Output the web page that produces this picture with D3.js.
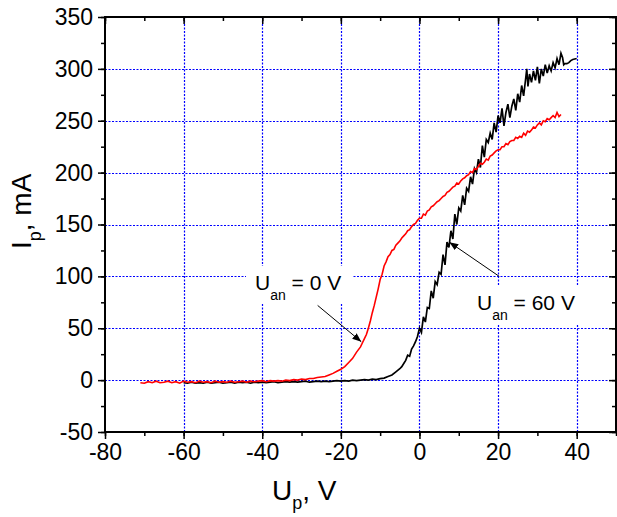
<!DOCTYPE html>
<html>
<head>
<meta charset="utf-8">
<script src="https://cdn.jsdelivr.net/npm/d3@7"></script>
<style>
  body { margin: 0; background: #fff; }
  text { font-family: "Liberation Sans", Arial, sans-serif; fill: #000; }
</style>
</head>
<body>
<div id="chart"></div>
<script>
// tick values
var xTicks = [-80, -60, -40, -20, 0, 20, 40];
var yTicks = [-50, 0, 50, 100, 150, 200, 250, 300, 350];
var xGrid = [-60, -40, -20, 0, 20, 40];
var yGrid = [0, 50, 100, 150, 200, 250, 300];

// U_an = 0 V (red)
var redU = [-71,-70,-69,-68,-67,-66,-65,-64,-63,-62,-61,-60,-59,-58,-57,-56,-55,-54,-53,-52,-51,-50,
  -49,-48,-47,-46,-45,-44,-43,-42,-41,-40,-39,-38,-37,-36,-35,-34,-33,-32,-31,-30,-29,-28,-27,-26,-25,
  -24,-23,-22,-21,-20,-19,-18,-17,-16,-15,-14.5,-14,-13.5,-13,-12.5,-12,-11.5,-11,-10.5,-10,-9.5,-9,
  -8.5,-8,-7.5,-7,-6.5,-6,-5.5,-5,-4.5,-4,-3.5,-3,-2.5,-2,-1.5,-1,-0.5,0,0.5,1,1.5,2,2.5,3,3.5,4,4.5,
  5,5.5,6,6.5,7,7.5,8,8.5,9,9.5,10,10.5,11,11.5,12,12.5,13,13.5,14,14.5,15,15.5,16,16.5,17,17.5,18,
  18.5,19,19.5,20,20.5,21,21.5,22,22.5,23,23.5,24,24.5,25,25.5,26,26.5,27,27.5,28,28.5,29,29.5,30,
  30.5,31,31.5,32,32.5,33,33.5,34,34.5,35,35.5,36];
var redI = [-2.5,-3,-1.5,-2.5,-1,-2.5,-2,-1,-2.5,-1.5,-3,-1,-2,-1.5,-2.5,-1,-2,-1.5,-2.5,-1,-2,-1.5,
  -2,-1,-2,-1.5,-1,-2,-1,-1.5,-1,-0.5,-1.5,-0.5,-1,-0.5,-1,0,-0.5,0.5,0,1,0.5,1.5,1.5,2.5,3,
  3.5,5,6.5,8.5,10.5,13,17,21,27,32,36,40,44,50,57,65,72,80,88,97,102,110,
  114,119,121,125,126,130,132,134,137,139,141,144,145,148,150,151,154,156,156,160,159,163,164,167,168,170,172,
  173,175,177,178,181,182,184,186,187,190,189,192,194,195,197,198,201,200,204,203,206,209,208,210,213,212,216,
  217,219,221,222,222,225,225,228,227,230,231,231,234,233,235,234,238,236,240,239,241,244,243,246,
  248,246,250,249,252,251,253,255,253,258,254,256];

// U_an = 60 V (black)
var blackU = [-60,-59,-58,-57,-56,-55,-54,-53,-52,-51,-50,-49,-48,-47,-46,-45,-44,-43,-42,-41,-40,
  -39,-38,-37,-36,-35,-34,-33,-32,-31,-30,-29,-28,-27,-26,-25,-24,-23,-22,-21,-20,-19,-18,-17,-16,-15,
  -14,-13,-12,-11,-10,-9,-8,-7,-6,-5,-4.5,-4,-3.5,-3,-2.5,-2,-1.5,-1,-0.5,0,0.5,1,1.5,2,2.5,3,3.5,4,4.5,
  5,5.5,6,6.5,7,7.5,8,8.5,9,9.5,10,10.5,11,11.5,12,12.5,13,13.5,14,14.5,15,15.5,16,16.5,17,17.5,18,18.5,
  19,19.5,20,20.5,21,21.5,22,22.5,23,23.5,24,24.5,25,25.5,26,26.5,27,27.3,27.6,28,28.5,29,29.5,30,30.5,
  31,31.5,32,32.5,33,33.5,34,34.5,35,35.5,36,36.4,36.7,37,37.5,38,38.5,39,40];
var blackI = [-2.5,-3,-2,-3,-2.5,-3,-2,-3,-2.5,-2,-3,-2.5,-2,-3,-2,-2.5,-2,-3,-2,-2.5,-2,
  -2.5,-2,-1.5,-2.5,-2,-1.5,-2,-1.5,-2,-1.5,-1,-2,-1.5,-1,-1.5,-1,-1.5,-1,-0.5,-1,-0.5,-1,0,-0.5,0,
  0.5,0,1,0.5,1.5,2,3.5,5,8,11,13,16,19,24,23,30,33,37,42,50,46,61,56,70,69,86,79,95,92,
  104,102,121,111,133,128,144,136,160,150,166,163,178,169,185,182,196,189,204,200,213,205,226,215,232,229,238,232,
  248,239,255,248,262,245,258,266,253,264,271,260,276,268,284,274,290,300,283,295,287,298,289,302,286,
  300,293,304,296,303,298,306,301,310,304,315,311,304,305,305,306,308,309,310];

var width = 617;
var height = 517;
var plotLeft = 105, plotRight = 616, plotTop = 17, plotBottom = 432;

var svg = d3.select("#chart")
    .append("svg")
    .attr("width", width)
    .attr("height", height);

var xScale = d3.scaleLinear().domain([-80, 50]).range([plotLeft, plotRight]);
var yScale = d3.scaleLinear().domain([-50, 350]).range([plotBottom, plotTop]);

// dotted blue grid
svg.append("g").selectAll("line").data(xGrid).enter()
    .append("line")
    .attr("x1", function(d) { return Math.round(xScale(d)) + 0.5; })
    .attr("x2", function(d) { return Math.round(xScale(d)) + 0.5; })
    .attr("y1", plotTop).attr("y2", plotBottom)
    .attr("stroke", "#0000ff").attr("stroke-width", 1.2)
    .attr("stroke-dasharray", "2,1.5");

svg.append("g").selectAll("line").data(yGrid).enter()
    .append("line")
    .attr("y1", function(d) { return Math.round(yScale(d)) + 0.5; })
    .attr("y2", function(d) { return Math.round(yScale(d)) + 0.5; })
    .attr("x1", plotLeft).attr("x2", plotRight)
    .attr("stroke", "#0000ff").attr("stroke-width", 1.2)
    .attr("stroke-dasharray", "2,1.5");

// curves
var line = d3.line()
    .x(function(d) { return xScale(d[0]); })
    .y(function(d) { return yScale(d[1]); });

var blackData = blackU.map(function(u, i) { return [u, blackI[i]]; });
var redData = redU.map(function(u, i) { return [u, redI[i]]; });

// label boxes hide the grid behind the text
var labels = svg.append("g");

function addLabel(x, y, sub, rest) {
  var box = labels.append("rect").attr("fill", "#fff");
  var t = labels.append("text")
      .attr("x", x).attr("y", y)
      .attr("font-size", 21);
  t.append("tspan").text("U");
  t.append("tspan").attr("font-size", 14).attr("dy", 10).text(sub);
  t.append("tspan").attr("dy", -10).text(rest);
  var bb = t.node().getBBox();
  box.attr("x", bb.x - 9).attr("y", bb.y - 5)
     .attr("width", bb.width + 20).attr("height", bb.height + 6);
}

addLabel(255, 290, "an", " = 0 V");
addLabel(477, 310, "an", " = 60 V");

svg.append("path")
    .datum(blackData)
    .attr("d", line)
    .attr("fill", "none")
    .attr("stroke", "#000")
    .attr("stroke-width", 1.7);

svg.append("path")
    .datum(redData)
    .attr("d", line)
    .attr("fill", "none")
    .attr("stroke", "#ff0000")
    .attr("stroke-width", 1.6);

// arrows
svg.append("defs").append("marker")
    .attr("id", "head")
    .attr("markerUnits", "userSpaceOnUse")
    .attr("markerWidth", 10).attr("markerHeight", 8)
    .attr("refX", 9).attr("refY", 4)
    .attr("orient", "auto")
    .append("path")
    .attr("d", "M0,0.5 L9,4 L0,7.5 Z")
    .attr("fill", "#000");

var arrows = [[[-25.9, 72], [-14.8, 37]], [[20.3, 100], [7.6, 133]]];
svg.append("g").selectAll("line").data(arrows).enter()
    .append("line")
    .attr("x1", function(d) { return xScale(d[0][0]); })
    .attr("y1", function(d) { return yScale(d[0][1]); })
    .attr("x2", function(d) { return xScale(d[1][0]); })
    .attr("y2", function(d) { return yScale(d[1][1]); })
    .attr("stroke", "#000").attr("stroke-width", 1)
    .attr("marker-end", "url(#head)");

// axes
var xMinor = d3.range(-80, 51, 10);
var yMinor = d3.range(-50, 351, 25);
var plain = function(d) { return String(d); };

function ticksOnly(g) { g.select(".domain").remove(); }

svg.append("g").attr("transform", "translate(0," + plotBottom + ")")
    .call(d3.axisBottom(xScale).tickValues(xMinor).tickSize(4).tickFormat(""))
    .call(ticksOnly);
svg.append("g").attr("transform", "translate(" + plotLeft + ",0)")
    .call(d3.axisLeft(yScale).tickValues(yMinor).tickSize(4).tickFormat(""))
    .call(ticksOnly);
svg.append("g").attr("transform", "translate(0," + plotTop + ")")
    .call(d3.axisBottom(xScale).tickValues(xMinor).tickSize(4).tickFormat(""))
    .call(ticksOnly);
svg.append("g").attr("transform", "translate(" + plotRight + ",0)")
    .call(d3.axisLeft(yScale).tickValues(yMinor).tickSize(4).tickFormat(""))
    .call(ticksOnly);
svg.append("g").attr("transform", "translate(0," + plotTop + ")")
    .call(d3.axisBottom(xScale).tickValues(xTicks).tickSize(7).tickFormat(""))
    .call(ticksOnly);
svg.append("g").attr("transform", "translate(" + plotRight + ",0)")
    .call(d3.axisLeft(yScale).tickValues(yTicks).tickSize(7).tickFormat(""))
    .call(ticksOnly);

svg.append("g").attr("class", "xAxis")
    .attr("transform", "translate(0," + plotBottom + ")")
    .call(d3.axisBottom(xScale).tickValues(xTicks).tickSize(7).tickPadding(5).tickFormat(plain))
    .call(ticksOnly);

svg.append("g").attr("class", "yAxis")
    .attr("transform", "translate(" + plotLeft + ",0)")
    .call(d3.axisLeft(yScale).tickValues(yTicks).tickSize(7).tickPadding(5).tickFormat(plain))
    .call(ticksOnly);

svg.selectAll(".tick line").attr("stroke", "#000").attr("stroke-width", 1.5);
svg.selectAll(".xAxis text, .yAxis text")
    .attr("font-family", "Liberation Sans, Arial, sans-serif")
    .attr("font-size", 23)
    .attr("fill", "#000");

// frame
svg.append("rect")
    .attr("x", plotLeft).attr("y", plotTop)
    .attr("width", plotRight - plotLeft).attr("height", plotBottom - plotTop)
    .attr("fill", "none")
    .attr("stroke", "#000")
    .attr("stroke-width", 2);

// axis titles
var xTitle = svg.append("text")
    .attr("x", 272).attr("y", 500)
    .attr("font-size", 28);
xTitle.append("tspan").text("U");
xTitle.append("tspan").attr("font-size", 18).attr("dy", 9).text("p");
xTitle.append("tspan").attr("dy", -9).text(", V");

var yTitle = svg.append("text")
    .attr("transform", "translate(31,249)rotate(-90)")
    .attr("font-size", 28);
yTitle.append("tspan").text("I");
yTitle.append("tspan").attr("font-size", 18).attr("dy", 10).text("p");
yTitle.append("tspan").attr("dy", -10).text(", mA");
</script>
</body>
</html>
